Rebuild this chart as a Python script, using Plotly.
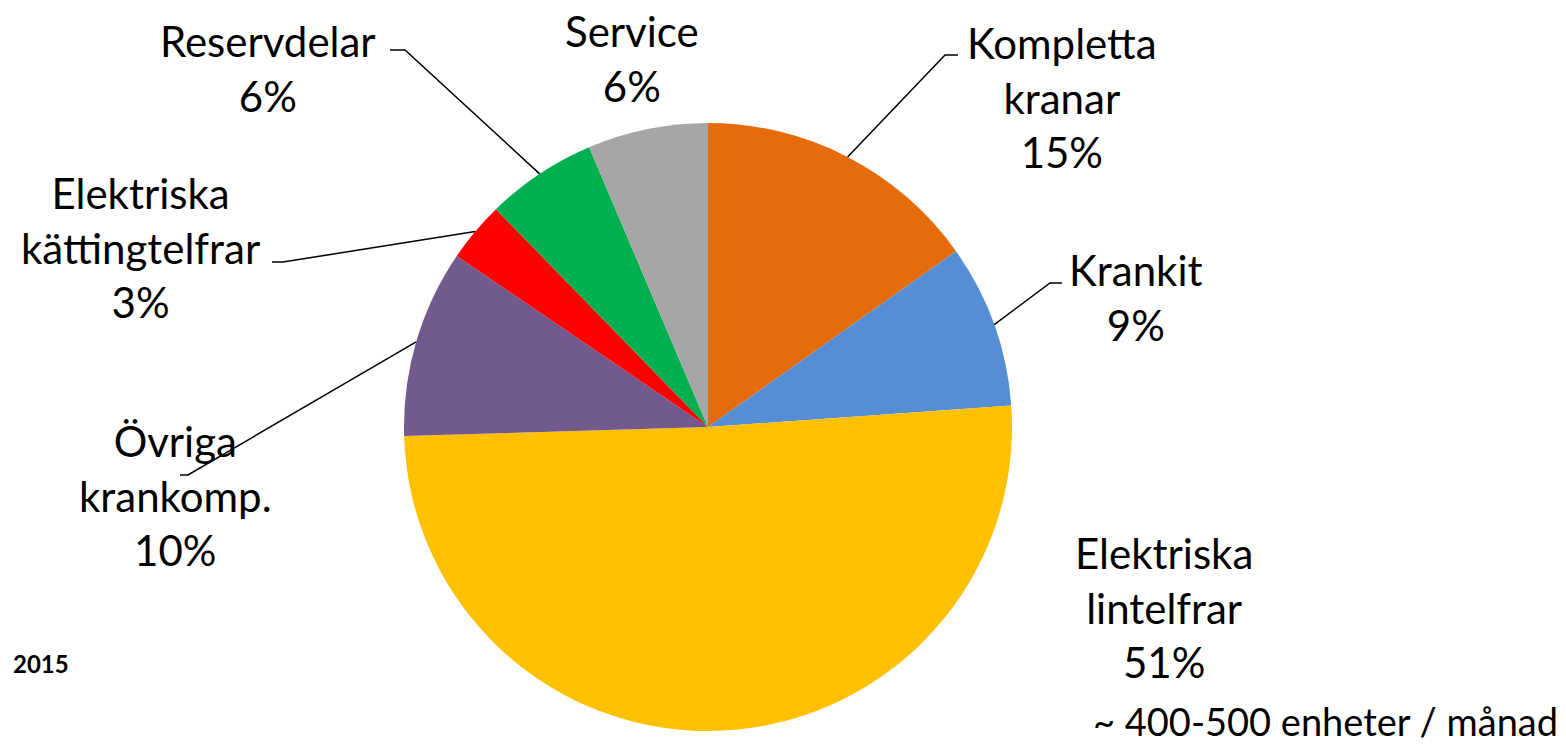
import math
import plotly.graph_objects as go

# ---- data ----
categories = ["Kompletta kranar", "Krankit", "Elektriska lintelfrar", "Övriga krankomp.",
              "Elektriska kättingtelfrar", "Reservdelar", "Service"]
values = [15.2, 8.7, 50.7, 10.0, 3.2, 5.9, 6.4]
pct_labels = ["15%", "9%", "51%", "10%", "3%", "6%", "6%"]
label_lines = [["Kompletta", "kranar"], ["Krankit"], ["Elektriska", "lintelfrar"],
               ["Övriga", "krankomp."], ["Elektriska", "kättingtelfrar"],
               ["Reservdelar"], ["Service"]]
colors = ["#E46C0A", "#558ED5", "#FFC000", "#725A8F", "#FF0000", "#00B050", "#A6A6A6"]
year_label = "2015"
note_label = "~ 400-500 enheter / månad"

# ---- layout geometry (pixels) ----
W, H = 1566, 744
CX, CY, R = 708, 427, 304
FONT = "Lato, 'Noto Sans', sans-serif"
FS = 42

# label block centers (px) and leader elbows (px) : None = no leader
label_pos = [(1062, 97), (1136, 297), (1164, 607), (175, 495), (140, 247), (268, 68), (632, 58)]
leaders = [[(945, 55), (958, 55)], [(1050, 283), (1062, 283)], None,
           [(188, 475), (180, 475)], [(283, 262), (272, 262)],
           [(405, 50), (390, 50)], None]

def px(x):
    return x / W

def py(y):
    return 1 - y / H

fig = go.Figure(go.Pie(
    labels=categories, values=values, sort=False, direction="clockwise", rotation=0,
    marker=dict(colors=colors, line=dict(width=0)), textinfo="none", hoverinfo="label+percent",
    domain=dict(x=[px(CX - R), px(CX + R)], y=[py(CY + R), py(CY - R)]),
    showlegend=False,
))

annotations = []
shapes = []
total = sum(values)
cum = 0.0
for i, v in enumerate(values):
    mid = (cum + v / 2) / total * 2 * math.pi
    cum += v
    text = "<br>".join(label_lines[i] + [pct_labels[i]])
    lx, ly = label_pos[i]
    annotations.append(dict(x=px(lx), y=py(ly), xref="paper", yref="paper", text=text,
                            showarrow=False, xanchor="center", yanchor="middle", align="center",
                            font=dict(family=FONT, size=FS, color="#000000")))
    if leaders[i] is not None:
        sx = CX + R * math.sin(mid)
        sy = CY - R * math.cos(mid)
        pts = [(sx, sy)] + leaders[i]
        path = "M " + " L ".join(f"{px(a):.5f},{py(b):.5f}" for a, b in pts)
        shapes.append(dict(type="path", path=path, xref="paper", yref="paper",
                           line=dict(color="#000000", width=1.5)))

annotations.append(dict(x=px(41), y=py(663), xref="paper", yref="paper", text=f"<b>{year_label}</b>",
                        showarrow=False, xanchor="center", yanchor="middle",
                        font=dict(family=FONT, size=24, color="#000000")))
annotations.append(dict(x=px(1560), y=py(721), xref="paper", yref="paper", text=note_label,
                        showarrow=False, xanchor="right", yanchor="middle",
                        font=dict(family=FONT, size=38, color="#000000")))

fig.update_layout(width=W, height=H, margin=dict(l=0, r=0, t=0, b=0),
                  paper_bgcolor="white", plot_bgcolor="white",
                  annotations=annotations, shapes=shapes)
fig.write_html("out.html")
